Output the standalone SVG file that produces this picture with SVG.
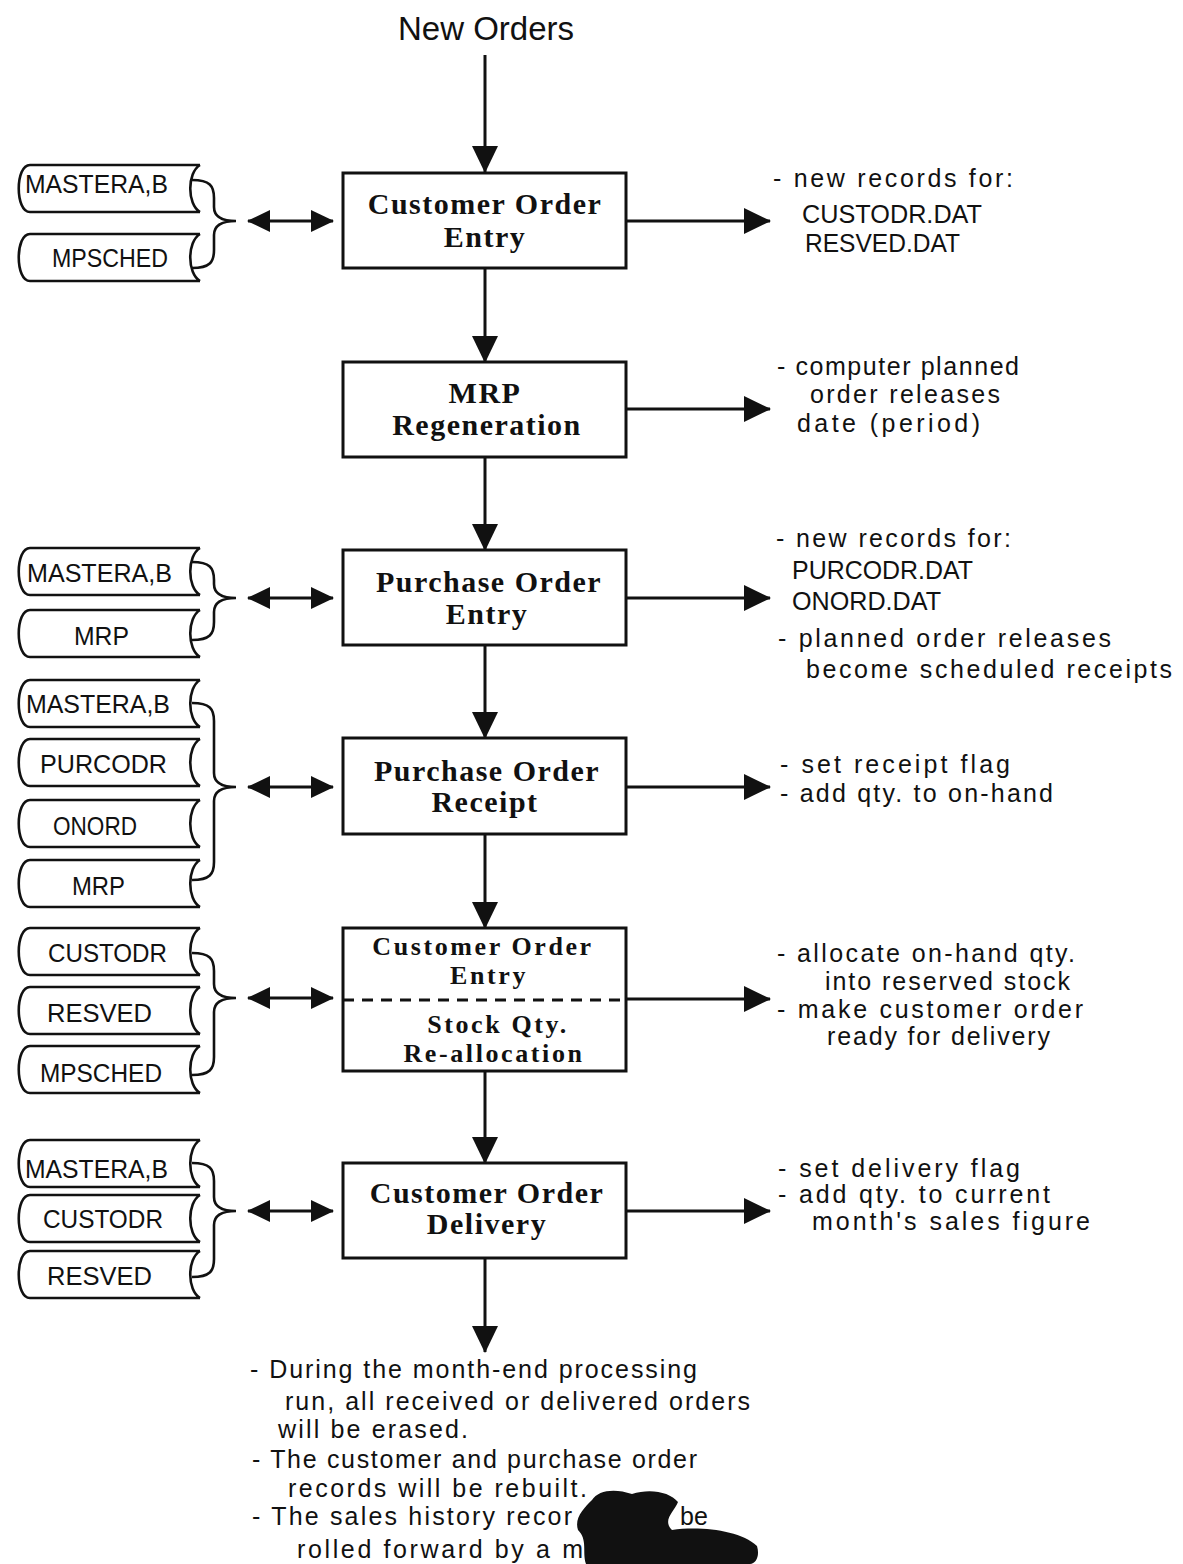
<svg xmlns="http://www.w3.org/2000/svg" xmlns:xlink="http://www.w3.org/1999/xlink" width="1183" height="1564" viewBox="0 0 1183 1564">
<style>
.box{fill:#fff;stroke:#111;stroke-width:3}
.bt{font-family:"Liberation Serif","Times New Roman",serif;font-weight:bold;font-size:30px;letter-spacing:1.5px;fill:#111;text-anchor:middle}
.bs{font-size:26px;letter-spacing:2.6px}
.t{font-family:"Liberation Sans",Arial,sans-serif;font-size:25px;fill:#111}
.fn{font-family:"Liberation Sans",Arial,sans-serif;font-size:25px;fill:#111}
.dbl{fill:none;stroke:#111;stroke-width:3;marker-start:url(#sh);marker-end:url(#sh)}
.arr{fill:none;stroke:#111;stroke-width:3;marker-end:url(#ah)}
.file{fill:#fff;stroke:#111;stroke-width:2.6;stroke-linejoin:round}
.brace{fill:none;stroke:#111;stroke-width:2.6}
</style>
<defs>
<marker id="ah" markerUnits="userSpaceOnUse" markerWidth="28" markerHeight="26" refX="26" refY="13" orient="auto-start-reverse"><path d="M0,0 L27,13 L0,26 z" fill="#111"/></marker>
<marker id="sh" markerUnits="userSpaceOnUse" markerWidth="24" markerHeight="22" refX="22" refY="11" orient="auto-start-reverse"><path d="M0,0 L23,11 L0,22 z" fill="#111"/></marker>
<path id="file" class="file" d="M190,0 H20 C5,0 5,47 20,47 H190 M190,0 C177,8 177,39 190,47"/>
</defs>

<rect width="1183" height="1564" fill="#fff"/>

<text class="t" x="486" y="40" text-anchor="middle" style="font-size:33px">New Orders</text>

<g id="connectors">
<line class="arr" x1="485" y1="55" x2="485" y2="172"/>
<line class="arr" x1="485" y1="268" x2="485" y2="362"/>
<line class="arr" x1="485" y1="457" x2="485" y2="550"/>
<line class="arr" x1="485" y1="645" x2="485" y2="738"/>
<line class="arr" x1="485" y1="834" x2="485" y2="928"/>
<line class="arr" x1="485" y1="1071" x2="485" y2="1163"/>
<line class="arr" x1="485" y1="1258" x2="485" y2="1352"/>
<line class="arr" x1="626" y1="221" x2="770" y2="221"/>
<line class="arr" x1="626" y1="409" x2="770" y2="409"/>
<line class="arr" x1="626" y1="598" x2="770" y2="598"/>
<line class="arr" x1="626" y1="787" x2="770" y2="787"/>
<line class="arr" x1="626" y1="999" x2="770" y2="999"/>
<line class="arr" x1="626" y1="1211" x2="770" y2="1211"/>
<line class="dbl" x1="248" y1="221" x2="333" y2="221"/>
<line class="dbl" x1="248" y1="598" x2="333" y2="598"/>
<line class="dbl" x1="248" y1="787" x2="333" y2="787"/>
<line class="dbl" x1="248" y1="998" x2="333" y2="998"/>
<line class="dbl" x1="248" y1="1211" x2="333" y2="1211"/>
</g>

<g id="node-coe">
<rect class="box" x="343" y="173" width="283" height="95"/>
<text class="bt" x="485" y="214">Customer Order</text>
<text class="bt" x="485" y="247">Entry</text>
</g>
<g id="node-mrp">
<rect class="box" x="343" y="362" width="283" height="95"/>
<text class="bt" x="485" y="403">MRP</text>
<text class="bt" x="487" y="435">Regeneration</text>
</g>
<g id="node-poe">
<rect class="box" x="343" y="550" width="283" height="95"/>
<text class="bt" x="489" y="592">Purchase Order</text>
<text class="bt" x="487" y="624">Entry</text>
</g>
<g id="node-por">
<rect class="box" x="343" y="738" width="283" height="96"/>
<text class="bt" x="487" y="781">Purchase Order</text>
<text class="bt" x="485" y="812">Receipt</text>
</g>
<g id="node-realloc">
<rect class="box" x="343" y="928" width="283" height="143"/>
<text class="bt bs" x="483" y="955">Customer Order</text>
<text class="bt bs" x="489" y="984">Entry</text>
<line x1="343" y1="1000" x2="626" y2="1000" stroke="#111" stroke-width="3" stroke-dasharray="11,8"/>
<text class="bt bs" x="498" y="1033">Stock Qty.</text>
<text class="bt bs" x="494" y="1062">Re-allocation</text>
</g>
<g id="node-cod">
<rect class="box" x="343" y="1163" width="283" height="95"/>
<text class="bt" x="487" y="1203">Customer Order</text>
<text class="bt" x="487" y="1234">Delivery</text>
</g>

<g id="files-coe">
<use xlink:href="#file" href="#file" x="10" y="165"/>
<text class="fn" x="25" y="193" textLength="143" lengthAdjust="spacingAndGlyphs">MASTERA,B</text>
<use xlink:href="#file" href="#file" x="10" y="234"/>
<text class="fn" x="52" y="267" textLength="116" lengthAdjust="spacingAndGlyphs">MPSCHED</text>
<path class="brace" d="M192,180 C210,180 214,186 214,198 V207 C214,217 222,221 236,221 C222,221 214,225 214,235 V250 C214,262 210,268 192,268"/>
</g>

<g id="files-poe">
<use xlink:href="#file" href="#file" x="10" y="548"/>
<text class="fn" x="27" y="582" textLength="145" lengthAdjust="spacingAndGlyphs">MASTERA,B</text>
<use xlink:href="#file" href="#file" x="10" y="610"/>
<text class="fn" x="74" y="645" textLength="55" lengthAdjust="spacingAndGlyphs">MRP</text>
<path class="brace" d="M192,562 C210,562 214,568 214,580 V584 C214,594 222,598 236,598 C222,598 214,602 214,612 V622 C214,634 210,640 192,640"/>
</g>

<g id="files-por">
<use xlink:href="#file" href="#file" x="10" y="680"/>
<text class="fn" x="26" y="713" textLength="144" lengthAdjust="spacingAndGlyphs">MASTERA,B</text>
<use xlink:href="#file" href="#file" x="10" y="739"/>
<text class="fn" x="40" y="773" textLength="127" lengthAdjust="spacingAndGlyphs">PURCODR</text>
<use xlink:href="#file" href="#file" x="10" y="800"/>
<text class="fn" x="53" y="835" textLength="84" lengthAdjust="spacingAndGlyphs">ONORD</text>
<use xlink:href="#file" href="#file" x="10" y="860"/>
<text class="fn" x="72" y="895" textLength="53" lengthAdjust="spacingAndGlyphs">MRP</text>
<path class="brace" d="M192,703 C210,703 214,709 214,721 V773 C214,783 222,787 236,787 C222,787 214,791 214,801 V862 C214,874 210,880 192,880"/>
</g>

<g id="files-realloc">
<use xlink:href="#file" href="#file" x="10" y="928"/>
<text class="fn" x="48" y="962" textLength="119" lengthAdjust="spacingAndGlyphs">CUSTODR</text>
<use xlink:href="#file" href="#file" x="10" y="987"/>
<text class="fn" x="47" y="1022" textLength="105" lengthAdjust="spacingAndGlyphs">RESVED</text>
<use xlink:href="#file" href="#file" x="10" y="1046"/>
<text class="fn" x="40" y="1082" textLength="122" lengthAdjust="spacingAndGlyphs">MPSCHED</text>
<path class="brace" d="M192,953 C210,953 214,959 214,971 V984 C214,994 222,998 236,998 C222,998 214,1002 214,1012 V1057 C214,1069 210,1075 192,1075"/>
</g>

<g id="files-cod">
<use xlink:href="#file" href="#file" x="10" y="1140"/>
<text class="fn" x="25" y="1178" textLength="143" lengthAdjust="spacingAndGlyphs">MASTERA,B</text>
<use xlink:href="#file" href="#file" x="10" y="1195"/>
<text class="fn" x="43" y="1228" textLength="120" lengthAdjust="spacingAndGlyphs">CUSTODR</text>
<use xlink:href="#file" href="#file" x="10" y="1251"/>
<text class="fn" x="47" y="1285" textLength="105" lengthAdjust="spacingAndGlyphs">RESVED</text>
<path class="brace" d="M192,1163 C210,1163 214,1169 214,1181 V1197 C214,1207 222,1211 236,1211 C222,1211 214,1215 214,1225 V1259 C214,1271 210,1277 192,1277"/>
</g>

<g id="notes">
<text class="t" x="773" y="187" textLength="240" lengthAdjust="spacing">- new records for:</text>
<text class="t" x="802" y="223" textLength="180" lengthAdjust="spacingAndGlyphs">CUSTODR.DAT</text>
<text class="t" x="805" y="252" textLength="155" lengthAdjust="spacingAndGlyphs">RESVED.DAT</text>

<text class="t" x="777" y="375" textLength="242" lengthAdjust="spacing">- computer planned</text>
<text class="t" x="810" y="403" textLength="190" lengthAdjust="spacing">order releases</text>
<text class="t" x="797" y="432" textLength="183" lengthAdjust="spacing">date (period)</text>

<text class="t" x="776" y="547" textLength="235" lengthAdjust="spacing">- new records for:</text>
<text class="t" x="792" y="579" textLength="181" lengthAdjust="spacingAndGlyphs">PURCODR.DAT</text>
<text class="t" x="792" y="610" textLength="149" lengthAdjust="spacingAndGlyphs">ONORD.DAT</text>
<text class="t" x="778" y="647" textLength="333" lengthAdjust="spacing">- planned order releases</text>
<text class="t" x="806" y="678" textLength="366" lengthAdjust="spacing">become scheduled receipts</text>

<text class="t" x="780" y="773" textLength="230" lengthAdjust="spacing">- set receipt flag</text>
<text class="t" x="780" y="802" textLength="273" lengthAdjust="spacing">- add qty. to on-hand</text>

<text class="t" x="777" y="962" textLength="298" lengthAdjust="spacing">- allocate on-hand qty.</text>
<text class="t" x="825" y="990" textLength="245" lengthAdjust="spacing">into reserved stock</text>
<text class="t" x="777" y="1018" textLength="306" lengthAdjust="spacing">- make customer order</text>
<text class="t" x="827" y="1045" textLength="223" lengthAdjust="spacing">ready for delivery</text>

<text class="t" x="778" y="1177" textLength="242" lengthAdjust="spacing">- set delivery flag</text>
<text class="t" x="778" y="1203" textLength="272" lengthAdjust="spacing">- add qty. to current</text>
<text class="t" x="812" y="1230" textLength="278" lengthAdjust="spacing">month's sales figure</text>

<text class="t" x="250" y="1378" textLength="447" lengthAdjust="spacing">- During the month-end processing</text>
<text class="t" x="285" y="1410" textLength="465" lengthAdjust="spacing">run, all received or delivered orders</text>
<text class="t" x="278" y="1438" textLength="190" lengthAdjust="spacing">will be erased.</text>
<text class="t" x="252" y="1468" textLength="445" lengthAdjust="spacing">- The customer and purchase order</text>
<text class="t" x="288" y="1497" textLength="299" lengthAdjust="spacing">records will be rebuilt.</text>
<text class="t" x="252" y="1525" textLength="320" lengthAdjust="spacing">- The sales history recor</text>
<text class="t" x="297" y="1558" textLength="286" lengthAdjust="spacing">rolled forward by a m</text>
</g>

<path d="M592,1500 C598,1490 615,1488 632,1494 C650,1488 670,1492 678,1502 C674,1512 662,1520 672,1530 C700,1526 740,1530 757,1546 C760,1556 756,1564 750,1564 L586,1564 C582,1552 588,1540 578,1530 C574,1518 584,1508 592,1500 Z" fill="#111"/>
<text class="t" x="680" y="1525" textLength="28" lengthAdjust="spacing">be</text>
</svg>
